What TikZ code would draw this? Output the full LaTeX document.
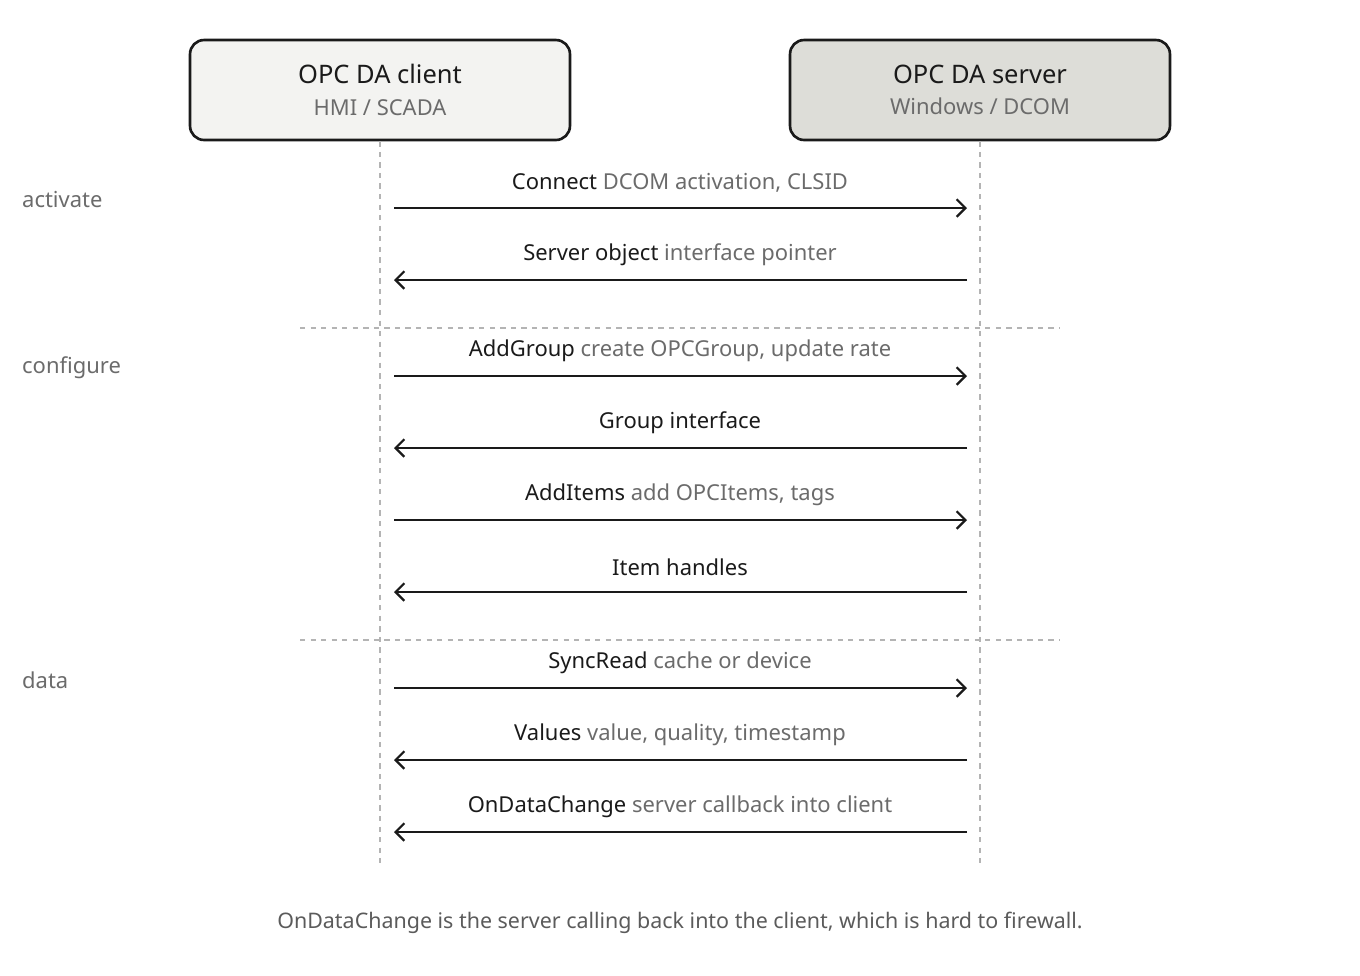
\documentclass[tikz,border=0pt]{standalone}
\usepackage{fontspec}
\setmainfont{Noto Sans}
\usetikzlibrary{arrows.meta, positioning}
\definecolor{ink}{HTML}{1A1A1A}
\definecolor{dim}{HTML}{6B6B6B}
\definecolor{rule}{HTML}{B4B4B4}
\definecolor{clientfill}{HTML}{F3F3F1}
\definecolor{serverfill}{HTML}{DDDDD8}
\tikzset{
    party/.style={rectangle, draw=ink, line width=1.5pt, rounded corners=8pt, align=center, minimum width=7.6cm, minimum height=2cm, font=\fontsize{14.5}{19}\selectfont, text=ink},
    lifeline/.style={rule, dashed, line width=0.8pt},
    divider/.style={rule, dashed, line width=0.8pt},
    msg/.style={ink, line width=1.3pt, -{Straight Barb[length=5pt, width=10pt]}},
    msglabel/.style={font=\fontsize{12.5}{15}\selectfont, text=ink},
    phase/.style={font=\fontsize{12.5}{15}\selectfont, text=dim, anchor=west}
}
\newcommand{\note}[1]{\textcolor{dim}{#1}}
\begin{document}
\begin{tikzpicture}[x=0.02cm, y=-0.02cm]
    \useasboundingbox (0,0) rectangle (1360,975);
    % participants
    \node (Client) [party, fill=clientfill] at (380,90) {OPC DA client\\[-1pt]{\fontsize{12.5}{15}\selectfont\color{dim}HMI / SCADA}};
    \node (Server) [party, fill=serverfill] at (980,90) {OPC DA server\\[-1pt]{\fontsize{12.5}{15}\selectfont\color{dim}Windows / DCOM}};
    \coordinate (ClientEnd) at (380,868);
    \coordinate (ServerEnd) at (980,868);
    \draw[lifeline] (Client.south) -- (ClientEnd);
    \draw[lifeline] (Server.south) -- (ServerEnd);
    % phase dividers
    \coordinate (DivA1) at (300,328); \coordinate (DivA2) at (1060,328);
    \coordinate (DivB1) at (300,640); \coordinate (DivB2) at (1060,640);
    \draw[divider] (DivA1) -- (DivA2);
    \draw[divider] (DivB1) -- (DivB2);
    % phase labels
    \node (PhaseActivate) [phase] at (16,200) {activate};
    \node (PhaseConfigure) [phase] at (16,368) {configure};
    \node (PhaseData) [phase] at (16,680) {data};
    % messages
    \foreach \i/\y/\dir/\txt in {
        1/208/r/{Connect \note{DCOM activation, CLSID}},
        2/280/l/{Server object \note{interface pointer}},
        3/376/r/{AddGroup \note{create OPCGroup, update rate}},
        4/448/l/{Group interface},
        5/520/r/{AddItems \note{add OPCItems, tags}},
        6/592/l/{Item handles},
        7/688/r/{SyncRead \note{cache or device}},
        8/760/l/{Values \note{value, quality, timestamp}},
        9/832/l/{OnDataChange \note{server callback into client}}} {
        \coordinate (C\i) at (394,\y);
        \coordinate (S\i) at (967,\y);
        \node (L\i) [msglabel] at (680,\y-25) {\txt};
        \if\dir r
            \draw[msg] (C\i) -- (S\i);
        \else
            \draw[msg] (S\i) -- (C\i);
        \fi
    }
    % caption
    \node (Caption) [font=\fontsize{12.2}{15}\selectfont, text=dim!85!black] at (680,923) {OnDataChange is the server calling back into the client, which is hard to firewall.};
\end{tikzpicture}
\end{document}
